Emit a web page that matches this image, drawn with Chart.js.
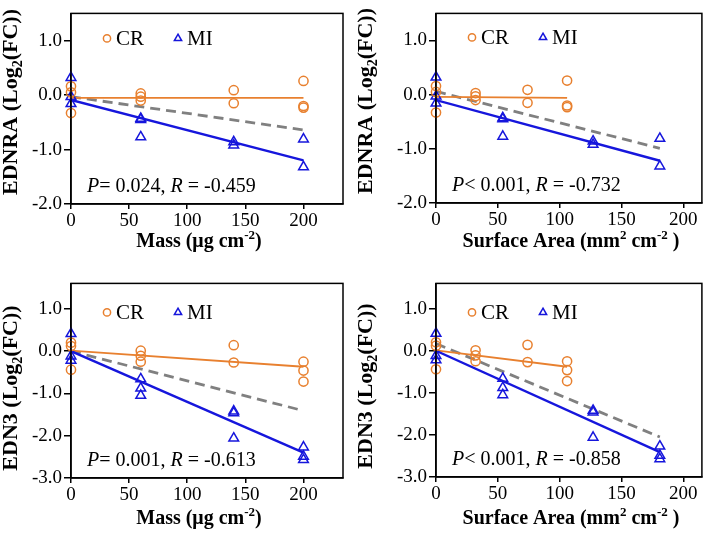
<!DOCTYPE html>
<html>
<head>
<meta charset="utf-8">
<script src="https://cdn.jsdelivr.net/npm/chart.js@4.4.0/dist/chart.umd.min.js"></script>
<style>
  html, body { margin: 0; padding: 0; background: #fff; }
  #wrap { position: relative; width: 709px; height: 539px; }
  .panel { position: absolute; }
</style>
</head>
<body>
<div id="wrap">
  <div class="panel" style="left:0;top:0;width:354px;height:270px"><canvas id="c1"></canvas></div>
  <div class="panel" style="left:354px;top:0;width:355px;height:270px"><canvas id="c2"></canvas></div>
  <div class="panel" style="left:0;top:270px;width:354px;height:269px"><canvas id="c3"></canvas></div>
  <div class="panel" style="left:354px;top:270px;width:355px;height:269px"><canvas id="c4"></canvas></div>
</div>
<script>
// x positions of the dose groups
const doses = [0, 60, 140, 200];          // ug cm-2
const areasCR = [0, 32, 74, 106];         // mm2 cm-2
const areasMI = [0, 54, 127, 181];
const xTicks = [0, 50, 100, 150, 200];
const yTicksEDNRA = [-2, -1, 0, 1];
const yTicksEDN3 = [-3, -2, -1, 0, 1];

// log2(FC) per dose group
const ednraCR = [[0.16, 0.05, -0.33], [0.03, -0.03, -0.10], [0.09, -0.15], [0.26, -0.20, -0.23]];
const ednraMI = [[0.32, -0.03, -0.16], [-0.43, -0.45, -0.77], [-0.86, -0.92], [-0.81, -1.32]];
const edn3CR = [[0.20, 0.12, -0.44], [0.01, -0.11, -0.25], [0.14, -0.27], [-0.25, -0.46, -0.72]];
const edn3MI = [[0.41, -0.12, -0.22], [-0.66, -0.88, -1.05], [-1.42, -1.46, -2.06], [-2.27, -2.49, -2.57]];

// fitted lines, end points
const fitMassEdnraCR = [[0, -0.05], [200, -0.05]];
const fitMassEdnraMI = [[0, -0.09], [200, -1.20]];
const fitMassEdnraAll = [[0, -0.03], [200, -0.64]];
const fitAreaEdnraCR = [[0, -0.04], [106, -0.06]];
const fitAreaEdnraMI = [[0, -0.10], [181, -1.22]];
const fitAreaEdnraAll = [[0, 0.06], [181, -0.99]];
const fitMassEdn3CR = [[0, 0.01], [200, -0.37]];
const fitMassEdn3MI = [[0, 0.0], [200, -2.40]];
const fitMassEdn3All = [[0, 0.0], [200, -1.41]];
const fitAreaEdn3CR = [[0, 0.01], [106, -0.38]];
const fitAreaEdn3MI = [[0, 0.0], [181, -2.41]];
const fitAreaEdn3All = [[0, 0.17], [181, -2.05]];

const statP = ['= 0.024, ', '< 0.001, ', '= 0.001, ', '< 0.001, '];
const statR = [' = -0.459', ' = -0.732', ' = -0.613', ' = -0.858'];

const ORANGE = '#e8802f';
const BLUE = '#1616dc';
const GRAY = '#808080';
const FONT = '"Liberation Serif", "Times New Roman", serif';

function pts(xs, groups) {
  return groups.flatMap((g, i) => g.map(y => ({ x: xs[i], y })));
}
function seg(p) {
  return p.map(([x, y]) => ({ x, y }));
}

function drawRuns(ctx, runs, x, y, rot, center) {
  ctx.save();
  ctx.translate(x, y);
  ctx.rotate(rot);
  ctx.textBaseline = 'alphabetic';
  ctx.textAlign = 'left';
  let total = 0;
  runs.forEach(r => { ctx.font = r.font; total += ctx.measureText(r.t).width; });
  let cx = center ? -total / 2 : 0;
  runs.forEach(r => {
    ctx.font = r.font;
    ctx.fillText(r.t, cx, r.dy || 0);
    cx += ctx.measureText(r.t).width;
  });
  ctx.restore();
}

const B = 'bold 20px ' + FONT;
const Bsmall = 'bold 13px ' + FONT;
const YB = 'bold 22px ' + FONT;
const YBsmall = 'bold 14px ' + FONT;

function yTitle(gene) {
  return [{ t: gene + ' (Log', font: YB }, { t: '2', font: YBsmall, dy: 5 }, { t: '(FC))', font: YB }];
}
const massTitle = [{ t: 'Mass (\u03bcg cm', font: B }, { t: '-2', font: Bsmall, dy: -8 }, { t: ')', font: B }];
const areaTitle = [{ t: 'Surface Area (mm', font: B }, { t: '2', font: Bsmall, dy: -8 },
  { t: ' cm', font: B }, { t: '-2', font: Bsmall, dy: -8 }, { t: ' )', font: B }];

function makePanel(id, cfg) {
  const overlay = {
    id: 'overlay' + id,
    afterDraw(chart) {
      const ctx = chart.ctx;
      const a = chart.chartArea;
      ctx.save();
      ctx.strokeStyle = '#000';
      ctx.lineWidth = 1.5;
      ctx.strokeRect(a.left, a.top, a.right - a.left, a.bottom - a.top);

      // legend
      const offs = [36, 107];
      for (let i = 0; i < 2; i++) {
        const ds = chart.data.datasets[i];
        const x = a.left + offs[i];
        const y = a.top + cfg.legendDy;
        ctx.strokeStyle = ds.borderColor;
        ctx.fillStyle = 'rgba(0,0,0,0)';
        Chart.helpers.drawPoint(ctx, { pointStyle: ds.pointStyle, radius: i ? 4.2 : 3.6, borderWidth: 1.5 }, x, y);
        ctx.fillStyle = '#000';
        ctx.font = '21px ' + FONT;
        ctx.textBaseline = 'middle';
        ctx.textAlign = 'left';
        ctx.fillText(ds.label, x + 9, y + 1);
      }

      // statistics
      ctx.fillStyle = '#000';
      drawRuns(ctx, [
        { t: 'P', font: 'italic 20px ' + FONT },
        { t: statP[cfg.stat], font: '20px ' + FONT },
        { t: 'R', font: 'italic 20px ' + FONT },
        { t: statR[cfg.stat], font: '20px ' + FONT }
      ], a.left + 16, a.bottom - 12, 0, false);

      // axis titles
      drawRuns(ctx, cfg.yTitle, cfg.yTitleX, cfg.yTitleY, -Math.PI / 2, true);
      drawRuns(ctx, cfg.xTitle, cfg.xTitleX, cfg.xTitleY, 0, true);
      ctx.restore();
    }
  };

  new Chart(document.getElementById(id), {
    type: 'scatter',
    data: {
      datasets: [
        { label: 'CR', data: cfg.cr, showLine: false, pointStyle: 'circle', pointRadius: 4.6,
          borderWidth: 1.5, borderColor: ORANGE, backgroundColor: 'rgba(0,0,0,0)', clip: false },
        { label: 'MI', data: cfg.mi, showLine: false, pointStyle: 'triangle', pointRadius: 5.6,
          borderWidth: 1.5, borderColor: BLUE, backgroundColor: 'rgba(0,0,0,0)', clip: false },
        { label: 'MI fit', data: seg(cfg.fits[1]), showLine: true, pointRadius: 0,
          borderColor: BLUE, borderWidth: 2.4 },
        { label: 'CR fit', data: seg(cfg.fits[0]), showLine: true, pointRadius: 0,
          borderColor: ORANGE, borderWidth: 1.8 },
        { label: 'All fit', data: seg(cfg.fits[2]), showLine: true, pointRadius: 0,
          borderColor: GRAY, borderWidth: 2.8, borderDash: [10, 6] }
      ]
    },
    options: {
      responsive: true,
      maintainAspectRatio: false,
      animation: false,
      events: [],
      layout: { padding: { left: 0, top: 4, right: cfg.padRight, bottom: 0 } },
      plugins: { legend: { display: false }, tooltip: { enabled: false } },
      scales: {
        x: {
          type: 'linear', min: 0, max: cfg.xMax,
          afterBuildTicks: s => { s.ticks = xTicks.map(v => ({ value: v })); },
          afterFit: s => { s.height = cfg.xH; },
          ticks: { color: '#000', font: { family: FONT, size: 19 }, padding: 1, maxRotation: 0, autoSkip: false },
          grid: { drawOnChartArea: false, tickLength: 5, color: '#000', lineWidth: 1.5 },
          border: { color: '#000', width: 1.5 }
        },
        y: {
          type: 'linear', min: cfg.yMin, max: cfg.yMax,
          afterBuildTicks: s => { s.ticks = cfg.yTicks.map(v => ({ value: v })); },
          afterFit: s => { s.width = cfg.yW; },
          ticks: { color: '#000', font: { family: FONT, size: 19 }, padding: 2,
            callback: v => v.toFixed(1) },
          grid: { drawOnChartArea: false, tickLength: 7, color: '#000', lineWidth: 1.5 },
          border: { color: '#000', width: 1.5 }
        }
      }
    },
    plugins: [overlay]
  });
}

makePanel('c1', {
  cr: pts(doses, ednraCR), mi: pts(doses, ednraMI),
  fits: [fitMassEdnraCR, fitMassEdnraMI, fitMassEdnraAll],
  xMax: 234, yMin: -2, yMax: 1.5, yTicks: yTicksEDNRA,
  yW: 71, xH: 66, padRight: 11, legendDy: 25, stat: 0,
  yTitle: yTitle('EDNRA'), yTitleX: 17, yTitleY: 102,
  xTitle: massTitle, xTitleX: 199, xTitleY: 247
});
makePanel('c2', {
  cr: pts(areasCR, ednraCR), mi: pts(areasMI, ednraMI),
  fits: [fitAreaEdnraCR, fitAreaEdnraMI, fitAreaEdnraAll],
  xMax: 215, yMin: -2, yMax: 1.5, yTicks: yTicksEDNRA,
  yW: 82, xH: 67, padRight: 2, legendDy: 24, stat: 1,
  yTitle: yTitle('EDNRA'), yTitleX: 18, yTitleY: 101,
  xTitle: areaTitle, xTitleX: 217, xTitleY: 247
});
makePanel('c3', {
  cr: pts(doses, edn3CR), mi: pts(doses, edn3MI),
  fits: [fitMassEdn3CR, fitMassEdn3MI, fitMassEdn3All],
  xMax: 234, yMin: -3, yMax: 1.6, yTicks: yTicksEDN3,
  yW: 71, xH: 61, padRight: 11, legendDy: 29, stat: 2,
  yTitle: yTitle('EDN3'), yTitleX: 17, yTitleY: 118,
  xTitle: massTitle, xTitleX: 199, xTitleY: 254
});
makePanel('c4', {
  cr: pts(areasCR, edn3CR), mi: pts(areasMI, edn3MI),
  fits: [fitAreaEdn3CR, fitAreaEdn3MI, fitAreaEdn3All],
  xMax: 215, yMin: -3, yMax: 1.6, yTicks: yTicksEDN3,
  yW: 82, xH: 62, padRight: 2, legendDy: 29, stat: 3,
  yTitle: yTitle('EDN3'), yTitleX: 18, yTitleY: 116,
  xTitle: areaTitle, xTitleX: 217, xTitleY: 254
});
</script>
</body>
</html>
